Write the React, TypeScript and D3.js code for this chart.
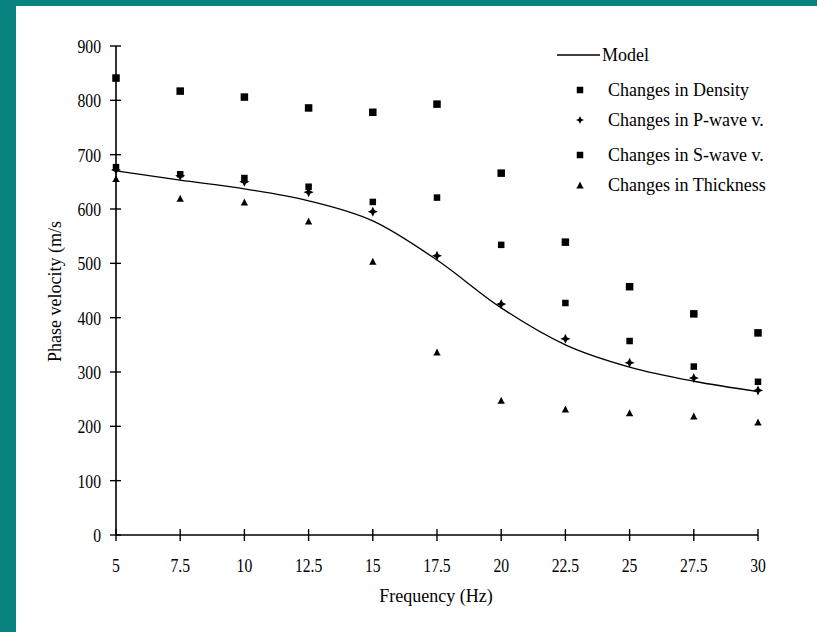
import React from "react";
import * as d3 from "d3";

const freqs = [5, 7.5, 10, 12.5, 15, 17.5, 20, 22.5, 25, 27.5, 30];
const model = [670, 653, 637, 615, 578, 506, 418, 350, 309, 283, 264];
const density = [841, 817, 806, 786, 778, 793, 666, 539, 457, 407, 372];
const pwave = [672, 661, 650, 631, 595, 514, 425, 361, 317, 289, 266];
const swave = [677, 664, 657, 641, 613, 621, 534, 427, 357, 310, 282];
const thickness = [656, 620, 613, 578, 504, 337, 248, 232, 225, 219, 208];
const xTicks = [5, 7.5, 10, 12.5, 15, 17.5, 20, 22.5, 25, 27.5, 30];
const yTicks = [0, 100, 200, 300, 400, 500, 600, 700, 800, 900];
const legendNames = [
  "Model",
  "Changes in Density",
  "Changes in P-wave v.",
  "Changes in S-wave v.",
  "Changes in Thickness",
];

const W = 817;
const H = 632;
const FONT = "'Liberation Serif', 'Times New Roman', serif";

const x = d3.scaleLinear().domain([5, 30]).range([116, 758]);
const y = d3.scaleLinear().domain([0, 900]).range([535, 46]);

const starPath = "M0,-5 L1.6,-1.6 L5,0 L1.6,1.6 L0,5 L-1.6,1.6 L-5,0 L-1.6,-1.6 Z";
const triPath = "M0,-3.5 L3,2.5 L-3,2.5 Z M-3.5,2.5 L3.5,2.5 L3.5,3.5 L-3.5,3.5 Z";

function Square({ cx, cy, s }: { cx: number; cy: number; s: number }) {
  return <rect x={cx - s / 2} y={cy - s / 2} width={s} height={s} fill="#000" />;
}

export default function App() {
  const line = d3
    .line<number>()
    .x((_, i) => x(freqs[i]))
    .y((d) => y(d))
    .curve(d3.curveMonotoneX);

  const legendX = 580;
  const legendTextX = 608;
  const legendY = [55, 90, 120, 155, 185];

  return (
    <svg
      width={W}
      height={H}
      style={{ position: "absolute", left: 0, top: 0 }}
      fontFamily={FONT}
    >
      <rect x={0} y={0} width={W} height={H} fill="#088380" />
      <rect x={16} y={6} width={W - 16} height={H - 6} fill="#fff" />

      {/* axes */}
      <line x1={x(5)} x2={x(5)} y1={y(900)} y2={y(0)} stroke="#000" strokeWidth={1.6} />
      <line x1={x(5)} x2={x(30)} y1={y(0)} y2={y(0)} stroke="#000" strokeWidth={1.6} />
      {yTicks.map((t) => (
        <g key={"y" + t}>
          <line x1={x(5) - 6} x2={x(5) + 5} y1={y(t)} y2={y(t)} stroke="#000" strokeWidth={1.4} />
          <text
            transform={`translate(${x(5) - 15},${y(t) + 7}) scale(0.87,1)`}
            textAnchor="end"
            fontSize={18}
            fill="#000"
          >
            {t}
          </text>
        </g>
      ))}
      {xTicks.map((t) => (
        <g key={"x" + t}>
          <line x1={x(t)} x2={x(t)} y1={y(0) - 6} y2={y(0) + 6} stroke="#000" strokeWidth={1.4} />
          <text
            transform={`translate(${x(t)},${572}) scale(0.87,1)`}
            textAnchor="middle"
            fontSize={18}
            fill="#000"
          >
            {t}
          </text>
        </g>
      ))}

      {/* axis titles */}
      <text x={436} y={602} textAnchor="middle" fontSize={18} fill="#000">
        Frequency (Hz)
      </text>
      <text
        transform={`translate(61,362) rotate(-90)`}
        textAnchor="start"
        fontSize={18}
        fill="#000"
      >
        Phase velocity (m/s
      </text>

      {/* model line */}
      <path d={line(model) || ""} fill="none" stroke="#000" strokeWidth={1.3} />

      {/* series */}
      {density.map((v, i) => (
        <Square key={"d" + i} cx={x(freqs[i])} cy={y(v)} s={7.5} />
      ))}
      {swave.map((v, i) => (
        <Square key={"s" + i} cx={x(freqs[i])} cy={y(v)} s={6.5} />
      ))}
      {pwave.map((v, i) => (
        <path
          key={"p" + i}
          d={starPath}
          transform={`translate(${x(freqs[i])},${y(v)})`}
          fill="#000"
        />
      ))}
      {thickness.map((v, i) => (
        <path
          key={"t" + i}
          d={triPath}
          transform={`translate(${x(freqs[i])},${y(v)})`}
          fill="#000"
        />
      ))}

      {/* legend */}
      <line x1={557} x2={600} y1={legendY[0]} y2={legendY[0]} stroke="#000" strokeWidth={1.3} />
      <Square cx={legendX} cy={legendY[1]} s={6.5} />
      <path d={starPath} transform={`translate(${legendX},${legendY[2]}) scale(0.8)`} fill="#000" />
      <Square cx={legendX} cy={legendY[3]} s={6.5} />
      <path d={triPath} transform={`translate(${legendX},${legendY[4]})`} fill="#000" />
      {legendNames.map((n, i) => (
        <text
          key={n}
          x={i === 0 ? 602 : legendTextX}
          y={legendY[i] + 6}
          fontSize={18}
          fill="#000"
        >
          {n}
        </text>
      ))}
    </svg>
  );
}
